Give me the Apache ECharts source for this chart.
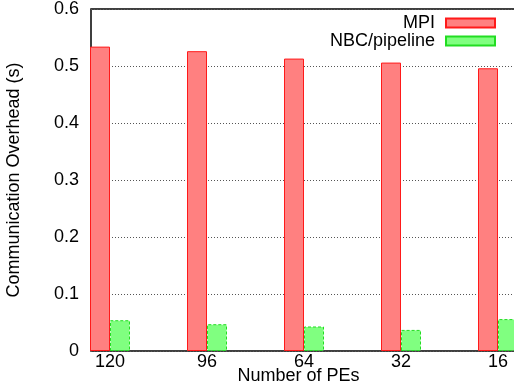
<!DOCTYPE html>
<html>
<head>
<meta charset="utf-8">
<script src="https://cdn.jsdelivr.net/npm/echarts@6/dist/echarts.min.js"></script>
<style>
  html, body { margin: 0; padding: 0; background: #fff; }
  #chart { width: 514px; height: 391px; }
</style>
</head>
<body>
<div id="chart"></div>
<script>
// Processor counts along the x axis
const peCounts = ['120', '96', '64', '32', '16'];
// Communication overhead in seconds
const mpiValues = [0.534, 0.526, 0.513, 0.506, 0.496];
const nbcValues = [0.054, 0.047, 0.043, 0.037, 0.056];
// Y axis tick labels
const yTickLabels = ['0', '0.1', '0.2', '0.3', '0.4', '0.5', '0.6'];

const FONT = 'Liberation Sans, Arial, Helvetica, sans-serif';
const FS = 18;
const chart = echarts.init(document.getElementById('chart'), null, { renderer: 'canvas' });

const PLOT_TOP = 9, PLOT_H = 342;

chart.setOption({
  animation: false,
  backgroundColor: '#ffffff',
  textStyle: { fontFamily: FONT },
  grid: [
    // frame, y scale and grid lines
    { left: 91, top: PLOT_TOP, width: 430, height: PLOT_H, show: true, outerBoundsMode: 'none',
      containLabel: false, borderColor: '#000', borderWidth: 1.5, backgroundColor: 'transparent' },
    // bar groups, one per processor count
    { left: 110, top: PLOT_TOP, width: 388, height: PLOT_H, show: false, outerBoundsMode: 'none',
      containLabel: false }
  ],
  legend: {
    orient: 'vertical',
    right: 18,
    top: 14,
    padding: 0,
    align: 'right',
    itemWidth: 49,
    itemHeight: 9,
    itemGap: 0,
    icon: 'rect',
    textStyle: { fontFamily: FONT, fontSize: FS, lineHeight: 18, color: '#000', padding: [0, 6, 0, 0] },
    data: ['MPI', 'NBC/pipeline']
  },
  xAxis: [
    {
      gridIndex: 0,
      type: 'value',
      min: 0, max: 1,
      axisLine: { show: false },
      axisTick: { show: false },
      axisLabel: { show: false },
      splitLine: { show: false }
    },
    {
      gridIndex: 1,
      type: 'category',
      data: peCounts,
      boundaryGap: false,
      name: 'Number of PEs',
      nameLocation: 'middle',
      nameGap: 16,
      nameMoveOverlap: false,
      nameTextStyle: { fontFamily: FONT, fontSize: FS, color: '#000', padding: [0, 11, 0, 0] },
      axisLine: { show: false },
      axisTick: { show: false },
      splitLine: { show: false },
      axisLabel: { fontFamily: FONT, fontSize: FS, color: '#000', margin: 2, interval: 0 }
    }
  ],
  yAxis: [
    {
      gridIndex: 0,
      type: 'value',
      min: 0,
      max: 0.6,
      interval: 0.1,
      name: 'Communication Overhead (s)',
      nameLocation: 'middle',
      nameGap: 68,
      nameRotate: 90,
      nameTextStyle: { fontFamily: FONT, fontSize: FS, color: '#000' },
      axisLine: { show: false },
      axisTick: { show: false },
      axisLabel: {
        formatter: v => yTickLabels[Math.round(v * 10)],
        fontFamily: FONT, fontSize: FS, color: '#000', margin: 12
      },
      splitLine: {
        show: true,
        lineStyle: { color: '#555', width: 1, type: [1, 2] }
      }
    },
    {
      gridIndex: 1,
      type: 'value',
      min: 0,
      max: 0.6,
      show: false,
      splitLine: { show: false }
    }
  ],
  series: [
    {
      name: 'MPI',
      type: 'bar',
      xAxisIndex: 1,
      yAxisIndex: 1,
      data: mpiValues,
      barWidth: 20,
      barGap: '0%',
      clip: false,
      itemStyle: { color: '#ff8080', borderColor: '#ff1a1a', borderWidth: 1 },
      z: 3
    },
    {
      name: 'NBC/pipeline',
      type: 'bar',
      xAxisIndex: 1,
      yAxisIndex: 1,
      data: nbcValues,
      barWidth: 20,
      barGap: '0%',
      clip: false,
      itemStyle: { color: '#80ff80', borderColor: '#22dd22', borderWidth: 1, borderType: [3, 2] },
      z: 3
    }
  ]
});
</script>
</body>
</html>
